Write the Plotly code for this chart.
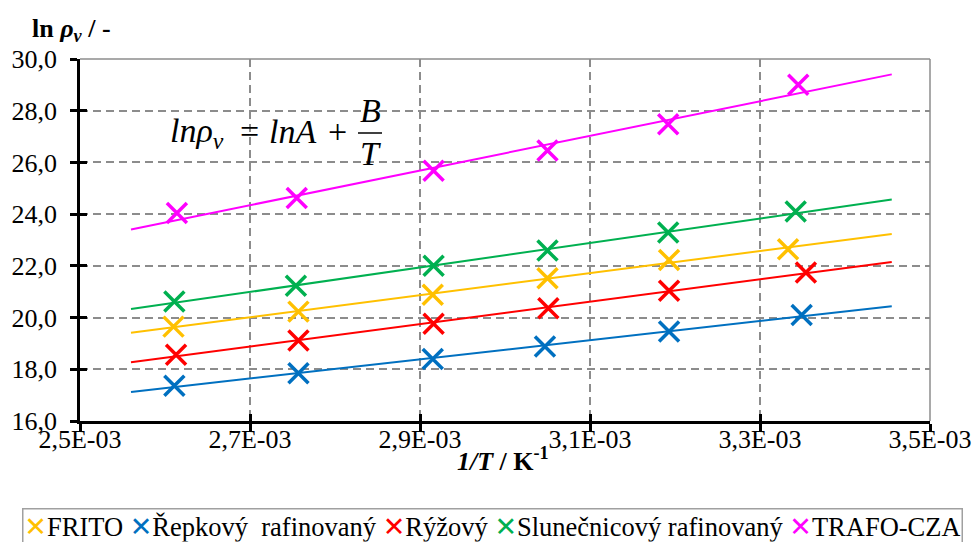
import numpy as np
import plotly.graph_objects as go

# ---- data ----
series_names = ["FRITO", "Řepkový\u00a0 rafinovaný", "Rýžový", "Slunečnicový rafinovaný", "TRAFO-CZA"]
colors = ["#FFC000", "#0070C0", "#FF0000", "#00B050", "#FF00FF"]

x_frito = [0.002610, 0.002757, 0.002915, 0.003050, 0.003193, 0.003333]
y_frito = [19.65, 20.23, 20.88, 21.52, 22.23, 22.64]

x_repka = [0.002611, 0.002757, 0.002915, 0.003047, 0.003193, 0.003349]
y_repka = [17.36, 17.85, 18.40, 18.88, 19.46, 20.10]

x_ryze = [0.002613, 0.002757, 0.002916, 0.003051, 0.003193, 0.003354]
y_ryze = [18.56, 19.11, 19.76, 20.36, 21.04, 21.74]

x_slun = [0.002611, 0.002754, 0.002916, 0.003050, 0.003192, 0.003342]
y_slun = [20.62, 21.23, 22.00, 22.59, 23.29, 24.10]

x_trafo = [0.002614, 0.002755, 0.002916, 0.003050, 0.003192, 0.003345]
y_trafo = [24.04, 24.62, 25.68, 26.46, 27.48, 29.00]

xs = [x_frito, x_repka, x_ryze, x_slun, x_trafo]
ys = [y_frito, y_repka, y_ryze, y_slun, y_trafo]

trend_start = 0.00256
trend_end = 0.003455

x_range = [0.0025, 0.0035]
y_range = [16, 30]
x_tickvals = [0.0025, 0.0027, 0.0029, 0.0031, 0.0033, 0.0035]
x_ticktext = ["2,5E-03", "2,7E-03", "2,9E-03", "3,1E-03", "3,3E-03", "3,5E-03"]
y_tickvals = [16, 18, 20, 22, 24, 26, 28, 30]
y_ticktext = ["16,0", "18,0", "20,0", "22,0", "24,0", "26,0", "28,0", "30,0"]

FONT = "Liberation Serif"
GRID = "#8C8C8C"
W, H = 974, 542

fig = go.Figure()

# trendlines (linear least-squares fits)
for xv, yv, c in zip(xs, ys, colors):
    k, q = np.polyfit(xv, yv, 1)
    xl = np.array([trend_start, trend_end])
    fig.add_trace(go.Scatter(x=xl, y=k * xl + q, mode="lines",
                             line=dict(color=c, width=2), showlegend=False,
                             hoverinfo="skip"))

# data markers
for name, xv, yv, c in zip(series_names, xs, ys, colors):
    fig.add_trace(go.Scatter(x=xv, y=yv, mode="markers", name=name, showlegend=False,
                             marker=dict(symbol="x-thin", size=20, color=c,
                                         line=dict(color=c, width=3.5))))

# dummy trace on overlay axes (inner half of the crossing tick marks)
fig.add_trace(go.Scatter(x=[None], y=[None], xaxis="x2", yaxis="y2",
                         showlegend=False, hoverinfo="skip"))

axis_font = dict(family=FONT, size=26, color="black")

fig.update_layout(
    width=W, height=H,
    margin=dict(l=80, r=44, t=59, b=121, autoexpand=False),
    paper_bgcolor="white", plot_bgcolor="white",
    font=dict(family=FONT, size=26, color="black"),
    showlegend=False,
    xaxis=dict(range=x_range, tickmode="array", tickvals=x_tickvals, ticktext=x_ticktext,
               showline=True, linecolor="black", linewidth=2.5,
               ticks="outside", ticklen=7, tickwidth=2.5, tickcolor="black",
               showgrid=True, gridcolor=GRID, gridwidth=1.5, griddash="8px,5px",
               zeroline=False, tickfont=axis_font, ticklabelstandoff=-14),
    yaxis=dict(range=y_range, tickmode="array", tickvals=y_tickvals, ticktext=y_ticktext,
               showline=True, linecolor="black", linewidth=2.5,
               ticks="outside", ticklen=7, tickwidth=2.5, tickcolor="black",
               showgrid=True, gridcolor=GRID, gridwidth=1.5, griddash="8px,5px",
               zeroline=False, tickfont=axis_font, ticklabelstandoff=8),
    xaxis2=dict(overlaying="x", range=x_range, tickmode="array", tickvals=x_tickvals,
                ticks="inside", ticklen=7, tickwidth=2.5, tickcolor="black",
                showticklabels=False, showgrid=False, showline=False, zeroline=False,
                anchor="y2", side="bottom"),
    yaxis2=dict(overlaying="y", range=y_range, tickmode="array", tickvals=y_tickvals,
                ticks="inside", ticklen=7, tickwidth=2.5, tickcolor="black",
                showticklabels=False, showgrid=False, showline=False, zeroline=False,
                anchor="x2", side="left"),
)

def px2paper_x(px):
    return (px - 80) / 850

def px2paper_y(py):
    return (421 - py) / 362

# legend row: coloured cross + series name, inside a grey frame
legend_items = []
for name, c in zip(series_names, colors):
    legend_items.append(
        f"<span style='color:{c};font-family:DejaVu Sans;font-size:27px'><b>✕</b></span>{name}")
legend_text = " ".join(legend_items)
fig.add_annotation(xref="paper", yref="paper", x=px2paper_x(492), y=px2paper_y(508),
                   xanchor="center", yanchor="top", showarrow=False, align="center",
                   text=legend_text, width=936, borderpad=1,
                   bordercolor="#A0A0A0", borderwidth=1.5, bgcolor="white",
                   font=dict(family=FONT, size=26.5, color="black"))

# plot-area border (top and right) in solid grey
fig.add_shape(type="line", xref="paper", yref="paper", x0=0, x1=1, y0=1, y1=1,
              line=dict(color=GRID, width=1.5))
fig.add_shape(type="line", xref="paper", yref="paper", x0=1, x1=1, y0=0, y1=1,
              line=dict(color=GRID, width=1.5))

def note(text, px, py, size=24, anchor="center"):
    fig.add_annotation(xref="paper", yref="paper", x=px2paper_x(px), y=px2paper_y(py),
                       xanchor=anchor, yanchor="middle", showarrow=False,
                       text=text, font=dict(family=FONT, size=size, color="black"))

# axis titles
note("<b>ln <i>ρ<sub>v</sub></i> / -</b>", 30, 30, size=26, anchor="left")
note("<b><i>1/T</i> / K<sup>-1</sup></b>", 503, 459, size=26)

# formula  ln ρv = ln A + B/T
note("<i>lnρ<sub>v</sub></i>", 168, 133, size=34, anchor="left")
note("=", 249, 131, size=34)
note("<i>lnA</i>", 267, 131, size=34, anchor="left")
note("+", 337, 131, size=34)
note("<i>B</i>", 370, 110, size=34)
note("<i>T</i>", 370, 153, size=34)
fig.add_shape(type="line", xref="paper", yref="paper",
              x0=px2paper_x(358), x1=px2paper_x(382), y0=px2paper_y(133), y1=px2paper_y(133),
              line=dict(color="black", width=1.5))

fig.write_html("out.html")
